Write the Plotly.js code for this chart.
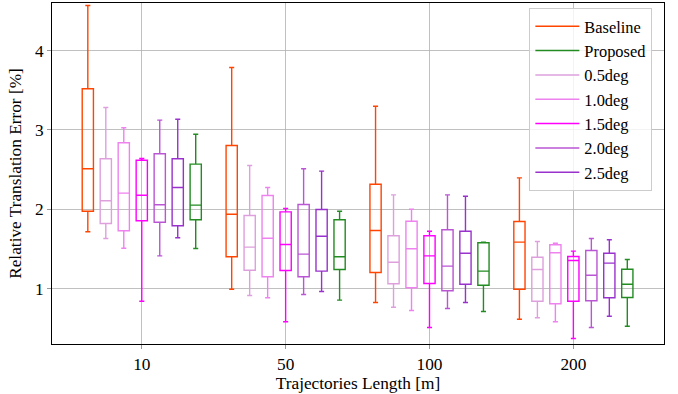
<!DOCTYPE html>
<html>
<head>
<meta charset="utf-8">
<script src="https://cdn.plot.ly/plotly-3.0.1.min.js"></script>
<style>html,body{margin:0;padding:0;background:#fff;}#chart{width:678px;height:394px;}</style>
</head>
<body>
<div id="chart"></div>
<script>
// Categories (trajectory lengths)
const categories = ["10", "50", "100", "200"];

// Series names in drawing order within each group
const seriesNames = ["Baseline", "0.5deg", "1.0deg", "1.5deg", "2.0deg", "2.5deg", "Proposed"];
// Legend order
const legendOrder = ["Baseline", "Proposed", "0.5deg", "1.0deg", "1.5deg", "2.0deg", "2.5deg"];

// Box statistics per series: one value per category [10, 50, 100, 200]
const baselineLow    = [1.718, 0.995, 0.828, 0.617];
const baselineQ1     = [1.977, 1.403, 1.205, 0.995];
const baselineMed    = [2.511, 1.939, 1.734, 1.587];
const baselineQ3     = [3.518, 2.804, 2.317, 1.847];
const baselineHigh   = [4.567, 3.786, 3.299, 2.397];

const deg05Low  = [1.633, 0.916, 0.768, 0.635];
const deg05Q1   = [1.822, 1.234, 1.063, 0.844];
const deg05Med  = [2.108, 1.524, 1.335, 1.243];
const deg05Q3   = [2.637, 1.923, 1.667, 1.398];
const deg05High = [3.283, 2.552, 2.183, 1.595];

const deg10Low  = [1.511, 0.887, 0.727, 0.585];
const deg10Q1   = [1.730, 1.151, 1.013, 0.811];
const deg10Med  = [2.204, 1.637, 1.504, 1.453];
const deg10Q3   = [2.838, 2.175, 1.851, 1.554];
const deg10High = [3.027, 2.275, 2.002, 1.574];

const deg15Low  = [0.844, 0.585, 0.513, 0.374];
const deg15Q1   = [1.856, 1.230, 1.067, 0.844];
const deg15Med  = [2.178, 1.558, 1.415, 1.356];
const deg15Q3   = [2.619, 1.969, 1.667, 1.407];
const deg15High = [2.640, 2.011, 1.725, 1.474];

const deg20Low  = [1.415, 0.928, 0.752, 0.513];
const deg20Q1   = [1.838, 1.151, 0.975, 0.849];
const deg20Med  = [2.058, 1.436, 1.285, 1.171];
const deg20Q3   = [2.700, 2.061, 1.743, 1.482];
const deg20High = [3.123, 2.511, 2.183, 1.633];

const deg25Low  = [1.642, 0.966, 0.828, 0.655];
const deg25Q1   = [1.793, 1.222, 1.058, 0.887];
const deg25Med  = [2.275, 1.662, 1.448, 1.323];
const deg25Q3   = [2.637, 1.998, 1.725, 1.448];
const deg25High = [3.135, 2.481, 2.166, 1.617];

const proposedLow  = [1.507, 0.857, 0.714, 0.529];
const proposedQ1   = [1.869, 1.243, 1.045, 0.890];
const proposedMed  = [2.053, 1.403, 1.222, 1.058];
const proposedQ3   = [2.569, 1.869, 1.579, 1.247];
const proposedHigh = [2.946, 1.977, 1.587, 1.369];

const seriesStats = {
  "Baseline": [baselineLow, baselineQ1, baselineMed, baselineQ3, baselineHigh],
  "0.5deg":   [deg05Low, deg05Q1, deg05Med, deg05Q3, deg05High],
  "1.0deg":   [deg10Low, deg10Q1, deg10Med, deg10Q3, deg10High],
  "1.5deg":   [deg15Low, deg15Q1, deg15Med, deg15Q3, deg15High],
  "2.0deg":   [deg20Low, deg20Q1, deg20Med, deg20Q3, deg20High],
  "2.5deg":   [deg25Low, deg25Q1, deg25Med, deg25Q3, deg25High],
  "Proposed": [proposedLow, proposedQ1, proposedMed, proposedQ3, proposedHigh]
};

const colors = {
  "Baseline": "#FF4500",
  "Proposed": "#228B22",
  "0.5deg": "#DDA0DD",
  "1.0deg": "#EE82EE",
  "1.5deg": "#FF00FF",
  "2.0deg": "#BA55D3",
  "2.5deg": "#9932CC"
};

const step = 0.125;
const boxW = 0.078;
const traces = [];
seriesNames.forEach((name, j) => {
  const s = seriesStats[name];
  const xs = categories.map((c, i) => i + (j - 3) * step);
  traces.push({
    type: "box",
    name: name,
    x: xs,
    lowerfence: s[0], q1: s[1], median: s[2], q3: s[3], upperfence: s[4],
    width: boxW,
    whiskerwidth: 0.45,
    line: {color: colors[name], width: 1.4},
    fillcolor: "rgba(255,255,255,0)",
    boxpoints: false,
    showlegend: false,
    hoverinfo: "skip"
  });
});
legendOrder.forEach(name => {
  traces.push({
    type: "scatter", mode: "lines", name: name,
    x: [null], y: [null],
    line: {color: colors[name], width: 1.5},
    showlegend: true
  });
});

const font = {family: "Liberation Serif, Times New Roman, serif", size: 17.3, color: "#000"};
const legendFont = {family: "Liberation Serif, Times New Roman, serif", size: 16.4, color: "#000"};
const layout = {
  width: 678, height: 394,
  margin: {l: 52, r: 14, t: 3, b: 50},
  paper_bgcolor: "#fff", plot_bgcolor: "#fff",
  font: font,
  boxmode: "overlay",
  xaxis: {
    type: "linear",
    range: [-0.624, 3.63],
    tickvals: categories.map((c, i) => i),
    ticktext: categories,
    showgrid: true, gridcolor: "#b0b0b0", gridwidth: 0.8,
    zeroline: false,
    showline: true, linecolor: "#000", linewidth: 1, mirror: true,
    ticks: "outside", ticklen: 4, tickcolor: "#999",
    tickfont: font,
    title: {text: "Trajectories Length [m]", font: font, standoff: 3}
  },
  yaxis: {
    range: [0.305, 4.598],
    tickvals: [1, 2, 3, 4],
    showgrid: true, gridcolor: "#b0b0b0", gridwidth: 0.8,
    zeroline: false,
    showline: true, linecolor: "#000", linewidth: 1, mirror: true,
    ticks: "outside", ticklen: 4, tickcolor: "#999",
    tickfont: font,
    title: {text: "Relative Translation Error [%]", font: font, standoff: 8}
  },
  legend: {
    x: 0.78, y: 0.985, xanchor: "left", yanchor: "top",
    bgcolor: "rgba(255,255,255,0.8)", bordercolor: "#cccccc", borderwidth: 1,
    font: legendFont, tracegroupgap: 0, itemwidth: 44
  },
  showlegend: true
};

Plotly.newPlot("chart", traces, layout, {staticPlot: true, displayModeBar: false});
</script>
</body>
</html>
